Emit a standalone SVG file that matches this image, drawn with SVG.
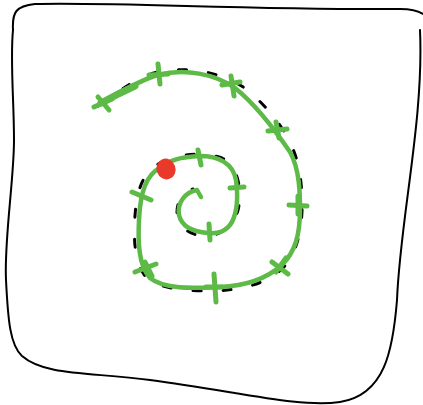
<svg xmlns="http://www.w3.org/2000/svg" width="423" height="405" viewBox="0 0 423 405">
<style>
.frame{fill:none;stroke:#000;stroke-width:2;stroke-linecap:round}
.dash{fill:none;stroke:#000;stroke-width:3;stroke-linecap:round;stroke-dasharray:8 22}
.spiral{fill:none;stroke:#5dba47;stroke-width:4.5;stroke-linecap:round;stroke-linejoin:round}
.tick{fill:none;stroke:#5dba47;stroke-width:5;stroke-linecap:round}
</style>
<path class="frame" d="M13,30 C12,12 16,6 35,4 C120,2 250,10 400,9 C412,9 420,12 423,14"/>
<path class="frame" d="M420,30 C424,120 400,220 397,300 C393,350 385,395 340,402 C300,408 240,392 150,380 C90,372 45,376 22,356 C10,345 8,320 6,280 C4,240 14,180 14,140 C14,100 10,60 13,30"/>
<path class="dash" d="M98,106 C120,90 140,76 158,72 C190,66 225,72 250,92 C275,115 295,140 300,175 C305,210 302,248 283,268 C265,285 240,290 213,291 C190,291 160,290 146,277 C133,262 133,232 136,205 C139,180 150,165 168,160 C185,153 205,152 222,158 C240,166 242,195 238,210 C234,225 222,236 205,236 C190,236 177,226 177,212 C177,200 185,190 193,189"/>
<path class="spiral" d="M100,103 C120,92 140,80 158,75 C185,68 215,74 235,88 C255,104 275,130 290,152 C300,170 300,195 300,210 C300,235 295,252 282,265 C265,280 245,286 220,287 C195,288 165,290 150,278 C138,265 138,240 139,220 C140,195 145,175 160,168 C170,160 180,157 200,156 C218,156 233,163 236,180 C238,195 238,210 232,222 C226,232 218,234 208,233 C195,232 182,228 179,215 C177,203 185,192 197,190 L201,197"/>
<path d="M101,103 C112,97 122,92 135,86" fill="none" stroke="#5dba47" stroke-width="7" stroke-linecap="round"/>
<g class="tick">
<path d="M98,97 L109,110"/><path d="M94,107 L112,99"/>
<path d="M158,64 L160,84"/><path d="M149,75 L168,74"/>
<path d="M231,76 L234,96"/><path d="M222,85 L240,82"/>
<path d="M268,131 L287,129"/><path d="M276,122 L279,138"/>
<path d="M289,205 L307,206"/><path d="M298,196 L298,214"/>
<path d="M272,262 L288,274"/><path d="M276,272 L286,258"/>
<path d="M214,274 L216,302"/><path d="M206,287 L222,287"/>
<path d="M135,272 L156,264"/><path d="M145,262 L152,276"/>
<path d="M132,192 L151,200"/>
<path d="M198,150 L201,165"/>
<path d="M230,188 L244,187"/>
<path d="M209,224 L210,240"/>
</g>
<ellipse cx="166" cy="169" rx="9.5" ry="10.5" fill="#e8392a" transform="rotate(-20 166 169)"/>
</svg>
